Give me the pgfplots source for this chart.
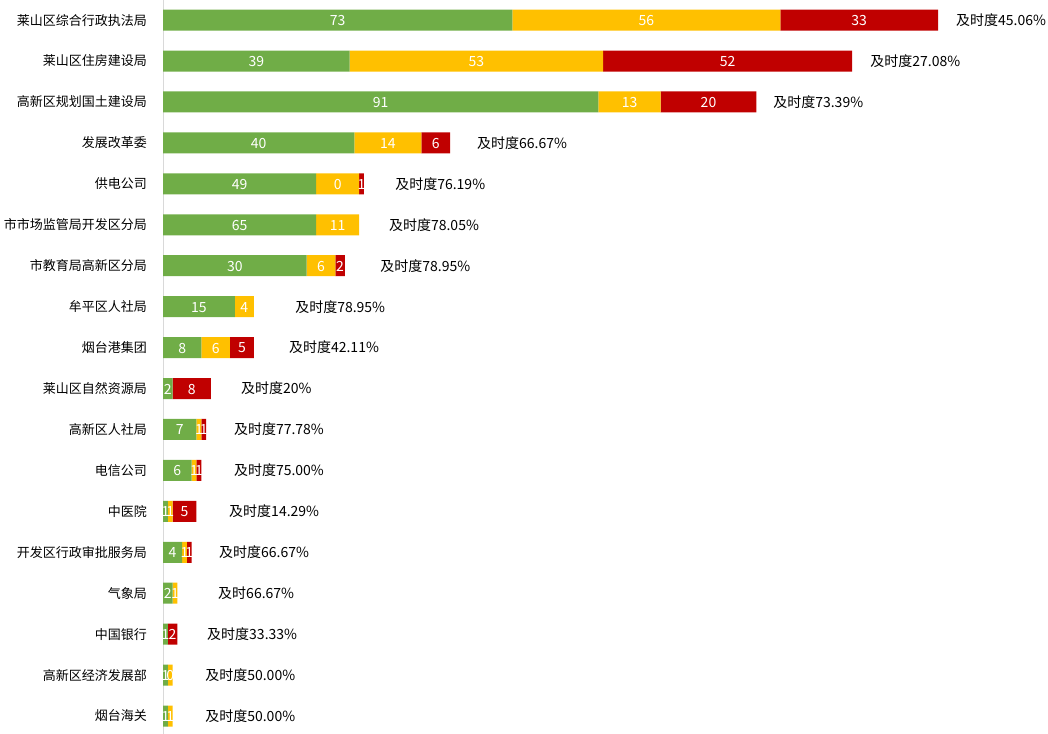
\documentclass[border=0pt]{standalone}
\usepackage{pgfplots}
\usepackage{pgfplotstable}
\usepackage{fontspec}
\setmainfont{Noto Sans CJK SC}
\pgfplotsset{compat=1.18}
\definecolor{cg}{HTML}{70AD47}
\definecolor{cy}{HTML}{FFC000}
\definecolor{cr}{HTML}{C00000}
\pgfplotstableread{
idx g y r gl yl rl lx pct
0 73 56 33 73 56 33 165.7 及时度45.06\%
1 39 53 52 39 53 52 147.8 及时度27.08\%
2 91 13 20 91 13 20 127.5 及时度73.39\%
3 40 14 6 40 14 6 65.6 及时度66.67\%
4 32 9 1 49 0 1 48.5 及时度76.19\%
5 32 9 0 65 11 {} 47.2 及时度78.05\%
6 30 6 2 30 6 2 45.4 及时度78.95\%
7 15 4 0 15 4 {} 27.6 及时度78.95\%
8 8 6 5 8 6 5 26.3 及时度42.11\%
9 2 0 8 2 {} 8 16.3 及时度20\%
10 7 1 1 7 1 1 14.8 及时度77.78\%
11 6 1 1 6 1 1 14.8 及时度75.00\%
12 1 1 5 1 1 5 13.8 及时度14.29\%
13 4 1 1 4 1 1 11.7 及时度66.67\%
14 2 1 0 2 1 {} 11.5 及时66.67\%
15 1 0 2 1 {} 2 9.2 及时度33.33\%
16 1 1 0 1 0 {} 8.8 及时度50.00\%
17 1 1 0 1 1 {} 8.8 及时度50.00\%
}\data
\begin{document}
\begin{tikzpicture}
\useasboundingbox (0pt,0pt) rectangle (1048pt,733pt);
\pgfplotsset{geom/.style={at={(163pt,-3.5pt)}, anchor=south west, scale only axis,
  width=861.3pt, height=736.9pt, xmin=0, xmax=180, ymin=-0.5, ymax=17.5,
  y dir=reverse, clip=false}}
\begin{axis}[geom, xbar stacked, bar width=21pt, hide x axis,
  axis y line*=left, y axis line style={draw=black!15, line width=1pt, -},
  ytick={0,...,17},
  yticklabels={莱山区综合行政执法局,莱山区住房建设局,高新区规划国土建设局,发展改革委,供电公司,市市场监管局开发区分局,市教育局高新区分局,牟平区人社局,烟台港集团,莱山区自然资源局,高新区人社局,电信公司,中医院,开发区行政审批服务局,气象局,中国银行,高新区经济发展部,烟台海关},
  major tick length=0pt,
  yticklabel style={font=\fontsize{13}{13}\selectfont, inner sep=0pt, xshift=-16pt, text=black}]
\addplot[fill=cg, draw=none] table[x=g, y=idx]{\data};
\addplot[fill=cy, draw=none] table[x=y, y=idx]{\data};
\addplot[fill=cr, draw=none] table[x=r, y=idx]{\data};
\end{axis}
\begin{axis}[geom, hide axis]
\pgfplotsset{every axis plot/.append style={draw=none, mark=none, nodes near coords, point meta=explicit symbolic}}
\addplot[nodes near coords align=center, every node near coord/.append style={text=white, yshift=-0.5pt, font=\fontsize{14}{14}\selectfont}]
  table[x expr=\thisrow{g}/2, y=idx, meta=gl]{\data};
\addplot[nodes near coords align=center, every node near coord/.append style={text=white, yshift=-0.5pt, font=\fontsize{14}{14}\selectfont}]
  table[x expr=\thisrow{g}+\thisrow{y}/2, y=idx, meta=yl]{\data};
\addplot[nodes near coords align=center, every node near coord/.append style={text=white, yshift=-0.5pt, font=\fontsize{14}{14}\selectfont}]
  table[x expr=\thisrow{g}+\thisrow{y}+\thisrow{r}/2, y=idx, meta=rl]{\data};
\addplot[nodes near coords align=center, every node near coord/.append style={anchor=west, inner sep=0pt, text=black, font=\fontsize{14}{14}\selectfont}]
  table[x=lx, y=idx, meta=pct]{\data};
\end{axis}
\end{tikzpicture}
\end{document}
